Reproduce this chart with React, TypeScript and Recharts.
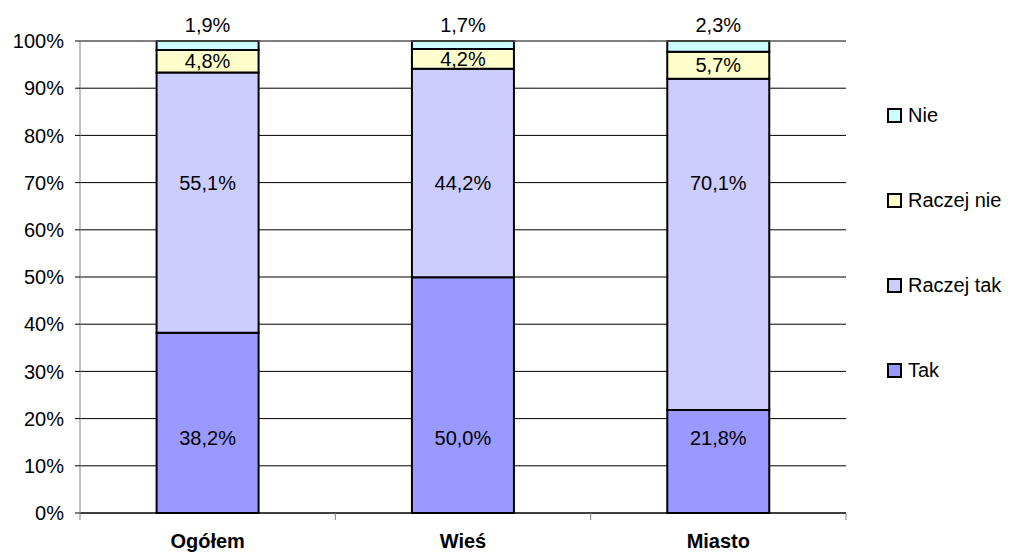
import React from 'react';
import { BarChart, Bar, XAxis, YAxis, CartesianGrid, LabelList, Legend, ReferenceLine } from 'recharts';

const categories = ['Ogółem', 'Wieś', 'Miasto'];
const tak = [38.2, 50.0, 21.8];
const raczejTak = [55.1, 44.2, 70.1];
const raczejNie = [4.8, 4.2, 5.7];
const nie = [1.9, 1.7, 2.3];
const yTicks = [0, 0.1, 0.2, 0.3, 0.4, 0.5, 0.6, 0.7, 0.8, 0.9, 1];

const series = [
  { key: 'nie', name: 'Nie', color: '#CCFFFF' },
  { key: 'raczejNie', name: 'Raczej nie', color: '#FFFFCC' },
  { key: 'raczejTak', name: 'Raczej tak', color: '#CCCCFF' },
  { key: 'tak', name: 'Tak', color: '#9999FF' },
];

const data = categories.map((c, i) => ({
  name: c,
  tak: tak[i],
  raczejTak: raczejTak[i],
  raczejNie: raczejNie[i],
  nie: nie[i],
}));

const FONT = '"Liberation Sans", Arial, sans-serif';
const W = 1000;
const H = 545;
const MARGIN = { top: 33, right: 162, bottom: 0, left: 0 };
const Y_W = 72;
const X_H = 40;
const PLOT_W = W - MARGIN.left - MARGIN.right - Y_W;
const BAND = PLOT_W / categories.length;
// fixed label rows used by the original (style)
const TAK_LABEL_Y = 430;
const RT_LABEL_Y = 175;

const fmt = (v: any) => {
  const n = Number(Array.isArray(v) ? v[1] - v[0] : v);
  return n.toFixed(1).replace('.', ',') + '%';
};

const makeLabel = (mode: 'fixedTak' | 'fixedRT' | 'center' | 'top') => (props: any) => {
  const vb = props.viewBox || {};
  const x = props.x ?? vb.x;
  const y = props.y ?? vb.y;
  const w = props.width ?? vb.width;
  const h = props.height ?? vb.height;
  const cx = x + w / 2;
  let cy = y + h / 2;
  if (mode === 'fixedTak') cy = TAK_LABEL_Y;
  if (mode === 'fixedRT') cy = RT_LABEL_Y;
  if (mode === 'top') cy = y - 16;
  return (
    <text x={cx} y={cy} textAnchor="middle" dominantBaseline="central" fontFamily={FONT} fontSize={20} fill="#000">
      {fmt(props.value)}
    </text>
  );
};

const XTick = (props: any) => {
  const { x, y, payload, index } = props;
  const axisY = y - 8;
  const left = x - BAND / 2;
  const right = x + BAND / 2;
  return (
    <g>
      <line x1={left} x2={left} y1={axisY} y2={axisY + 7} stroke="#808080" strokeWidth={1} />
      {index === categories.length - 1 && (
        <line x1={right} x2={right} y1={axisY} y2={axisY + 7} stroke="#808080" strokeWidth={1} />
      )}
      <text x={x} y={axisY + 35} textAnchor="middle" fontFamily={FONT} fontSize={20} fontWeight="bold" fill="#000">
        {payload.value}
      </text>
    </g>
  );
};

const LegendContent = () => (
  <div style={{ fontFamily: FONT, fontSize: 20, color: '#000' }}>
    {series.map((s, i) => (
      <div
        key={s.key}
        style={{
          position: 'absolute',
          left: 0,
          top: 95 + i * 85,
          height: 24,
          display: 'flex',
          alignItems: 'center',
          whiteSpace: 'nowrap',
        }}
      >
        <span
          style={{
            display: 'inline-block',
            width: 15,
            height: 15,
            boxSizing: 'border-box',
            border: '2px solid #000',
            background: s.color,
            marginRight: 6,
          }}
        />
        <span>{s.name}</span>
      </div>
    ))}
  </div>
);

export default function App() {
  return (
    <div style={{ width: W, height: H }}>
      <BarChart
        width={W}
        height={H}
        data={data}
        margin={MARGIN}
        stackOffset="expand"
        barCategoryGap="30%"
      >
        <CartesianGrid vertical={false} stroke="#000" strokeWidth={1} />
        <ReferenceLine y={1} stroke="#808080" strokeWidth={1} ifOverflow="extendDomain" />
        <XAxis
          dataKey="name"
          height={X_H}
          axisLine={{ stroke: '#000', strokeWidth: 1 }}
          tickLine={false}
          tickSize={6}
          tickMargin={2}
          interval={0}
          tick={<XTick />}
        />
        <YAxis
          width={Y_W}
          domain={[0, 1]}
          ticks={yTicks}
          tickFormatter={(v: number) => Math.round(v * 100) + '%'}
          axisLine={{ stroke: '#808080', strokeWidth: 1 }}
          tickLine={{ stroke: '#000', strokeWidth: 1 }}
          tickSize={5}
          tickMargin={11}
          tick={{ fontFamily: FONT, fontSize: 20, fill: '#000' }}
        />
        <Legend
          layout="vertical"
          align="center"
          verticalAlign="middle"
          wrapperStyle={{ left: 879, top: 0, width: 121, height: 400 }}
          content={<LegendContent />}
        />
        <Bar dataKey="tak" name="Tak" stackId="a" fill="#9999FF" stroke="#000" strokeWidth={2} isAnimationActive={false}>
          <LabelList dataKey="tak" content={makeLabel('fixedTak')} />
        </Bar>
        <Bar dataKey="raczejTak" name="Raczej tak" stackId="a" fill="#CCCCFF" stroke="#000" strokeWidth={2} isAnimationActive={false}>
          <LabelList dataKey="raczejTak" content={makeLabel('fixedRT')} />
        </Bar>
        <Bar dataKey="raczejNie" name="Raczej nie" stackId="a" fill="#FFFFCC" stroke="#000" strokeWidth={2} isAnimationActive={false}>
          <LabelList dataKey="raczejNie" content={makeLabel('center')} />
        </Bar>
        <Bar dataKey="nie" name="Nie" stackId="a" fill="#CCFFFF" stroke="#000" strokeWidth={2} isAnimationActive={false}>
          <LabelList dataKey="nie" content={makeLabel('top')} />
        </Bar>
      </BarChart>
    </div>
  );
}
